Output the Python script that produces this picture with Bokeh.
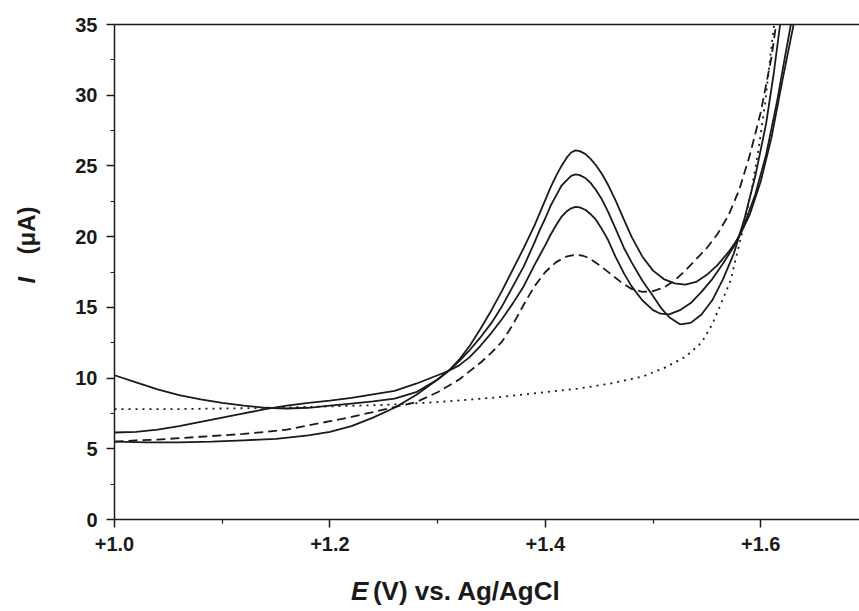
from bokeh.plotting import figure
from bokeh.models import FixedTicker, LinearAxis, Label, Range1d
from bokeh.layouts import row, column
from bokeh.embed import file_html
from bokeh.resources import INLINE

# ---- axis ticks ----
x_ticks = [1.0, 1.2, 1.4, 1.6]
x_tick_labels = ["+1.0", "+1.2", "+1.4", "+1.6"]
x_minor_ticks = [1.1, 1.3, 1.5, 1.7]
y_ticks = [0, 5, 10, 15, 20, 25, 30, 35]
y_minor_ticks = [2.5, 7.5, 12.5, 17.5, 22.5, 27.5, 32.5]

x_title_italic = "E"
x_title_rest = "(V) vs. Ag/AgCl"
y_title_italic = "I"
y_title_rest = "(\u03bcA)"

# ---- solid curve A (starts high, peak ~24.4) ----
a_v = [1.00, 1.02, 1.04, 1.06, 1.08, 1.10, 1.12, 1.14, 1.16, 1.18, 1.20, 1.22, 1.24, 1.26,
       1.28, 1.30, 1.31, 1.32, 1.33, 1.34, 1.35, 1.36, 1.37, 1.38, 1.39, 1.395, 1.40, 1.405,
       1.41, 1.415, 1.42, 1.424, 1.428, 1.432, 1.437, 1.442, 1.447, 1.452, 1.458, 1.465,
       1.473, 1.48, 1.49, 1.50, 1.507, 1.515, 1.525, 1.535, 1.545, 1.555, 1.565, 1.575,
       1.585, 1.595, 1.605, 1.612, 1.618, 1.622]
a_i = [10.2, 9.7, 9.2, 8.8, 8.5, 8.25, 8.05, 7.9, 7.85, 7.9, 8.05, 8.2, 8.35, 8.55,
       9.0, 9.9, 10.5, 11.2, 12.0, 12.9, 13.9, 15.1, 16.5, 17.9, 19.6, 20.5, 21.3, 22.2,
       22.9, 23.6, 24.0, 24.3, 24.4, 24.35, 24.15, 23.8, 23.3, 22.7, 21.8, 20.6,
       19.2, 18.2, 16.9, 15.8, 15.0, 14.3, 13.8, 13.9, 14.5, 15.5, 17.0, 18.8,
       21.3, 24.3, 28.0, 31.5, 35.0, 37.5]

# ---- solid curve B (starts ~6.1, peak ~22.1) ----
b_v = [1.00, 1.02, 1.04, 1.06, 1.08, 1.10, 1.12, 1.14, 1.16, 1.18, 1.20, 1.22, 1.24, 1.26,
       1.28, 1.30, 1.31, 1.32, 1.33, 1.34, 1.35, 1.36, 1.37, 1.38, 1.39, 1.395, 1.40, 1.405,
       1.41, 1.415, 1.42, 1.424, 1.428, 1.432, 1.437, 1.442, 1.447, 1.452, 1.458, 1.465,
       1.473, 1.48, 1.49, 1.50, 1.507, 1.515, 1.525, 1.535, 1.545, 1.555, 1.565, 1.575,
       1.585, 1.595, 1.605, 1.615, 1.622, 1.628, 1.633]
b_i = [6.15, 6.2, 6.35, 6.6, 6.9, 7.2, 7.5, 7.8, 8.05, 8.25, 8.4, 8.6, 8.85, 9.1,
       9.6, 10.2, 10.5, 10.9, 11.5, 12.3, 13.2, 14.2, 15.3, 16.5, 18.0, 18.7, 19.4, 20.15,
       20.8, 21.4, 21.8, 22.0, 22.1, 22.07, 21.9, 21.6, 21.2, 20.6, 19.8, 18.6,
       17.4, 16.5, 15.5, 14.8, 14.55, 14.5, 14.8, 15.3, 16.1, 17.0, 18.1, 19.3,
       20.9, 23.0, 25.8, 29.5, 32.5, 35.0, 37.5]

# ---- solid curve C (starts ~5.5, peak ~26.1) ----
c_v = [1.00, 1.03, 1.06, 1.09, 1.12, 1.15, 1.18, 1.20, 1.22, 1.24, 1.26, 1.28, 1.30, 1.31,
       1.32, 1.33, 1.34, 1.35, 1.36, 1.37, 1.38, 1.39, 1.395, 1.40, 1.405, 1.41, 1.415, 1.42,
       1.424, 1.428, 1.432, 1.437, 1.442, 1.447, 1.452, 1.458, 1.465, 1.473, 1.48, 1.49,
       1.50, 1.51, 1.52, 1.53, 1.54, 1.55, 1.56, 1.57, 1.58, 1.59, 1.60, 1.61, 1.62, 1.63,
       1.636]
c_i = [5.5, 5.45, 5.45, 5.5, 5.6, 5.7, 5.95, 6.2, 6.6, 7.2, 7.9, 8.8, 9.9, 10.5,
       11.3, 12.3, 13.5, 14.8, 16.2, 17.7, 19.2, 20.8, 21.7, 22.6, 23.5, 24.3, 25.0, 25.6,
       25.95, 26.1, 26.05, 25.85, 25.5, 25.05, 24.5, 23.7, 22.6, 21.2, 20.0, 18.6,
       17.6, 17.0, 16.7, 16.6, 16.8, 17.3, 18.0, 18.9, 20.0, 21.6, 23.9, 27.0, 31.0, 34.8,
       37.5]

# ---- dashed curve ----
d_v = [1.00, 1.02, 1.04, 1.06, 1.08, 1.10, 1.12, 1.14, 1.16, 1.18, 1.20, 1.22, 1.24, 1.26,
       1.28, 1.30, 1.32, 1.34, 1.35, 1.36, 1.37, 1.38, 1.39, 1.40, 1.41, 1.42, 1.425, 1.43,
       1.435, 1.44, 1.45, 1.46, 1.47, 1.48, 1.49, 1.50, 1.51, 1.52, 1.53, 1.54, 1.55, 1.56,
       1.57, 1.58, 1.59, 1.60, 1.61, 1.617]
d_i = [5.5, 5.6, 5.65, 5.75, 5.85, 5.95, 6.05, 6.2, 6.35, 6.65, 6.95, 7.25, 7.6, 7.95,
       8.3, 9.0, 9.9, 11.1, 11.8, 12.6, 13.8, 15.2, 16.5, 17.5, 18.2, 18.6, 18.68, 18.7,
       18.65, 18.5, 18.0, 17.4, 16.8, 16.3, 16.1, 16.15, 16.4, 16.9, 17.6, 18.4, 19.2, 20.2,
       21.5, 23.3, 25.8, 28.8, 32.7, 36.5]

# ---- dotted curve ----
e_v = [1.00, 1.05, 1.10, 1.15, 1.20, 1.25, 1.30, 1.35, 1.40, 1.43, 1.46, 1.49, 1.51, 1.53,
       1.545, 1.555, 1.565, 1.572, 1.578, 1.585, 1.592, 1.598, 1.604, 1.609, 1.614]
e_i = [7.8, 7.8, 7.85, 7.9, 8.0, 8.1, 8.3, 8.6, 9.0, 9.25, 9.6, 10.1, 10.7, 11.5,
       12.5, 13.8, 15.6, 16.9, 18.8, 21.0, 23.5, 26.2, 29.4, 32.8, 36.0]

FONT = "Liberation Sans"
INK = "#1a1a1a"
TITLE_SIZE = "26px"
LW = 1.8


def blank_fig(w, h):
    f = figure(width=w, height=h, output_backend="svg", toolbar_location=None,
               x_range=Range1d(0, w), y_range=Range1d(0, h),
               x_axis_location=None, y_axis_location=None,
               min_border=0, min_border_left=0, min_border_right=0,
               min_border_top=0, min_border_bottom=0)
    f.grid.visible = False
    f.outline_line_color = None
    f.background_fill_color = "white"
    f.border_fill_color = "white"
    return f


# ---- main plot ----
p = figure(width=813, height=560, output_backend="svg", toolbar_location=None,
           x_range=Range1d(1.0, 1.6917), y_range=Range1d(0, 35),
           min_border_left=68, min_border_right=0, min_border_top=24, min_border_bottom=41)
p.grid.visible = False
p.outline_line_color = None
p.background_fill_color = "white"
p.border_fill_color = "white"

for ax in (p.xaxis[0], p.yaxis[0]):
    ax.axis_line_color = INK
    ax.axis_line_width = 1.5
    ax.major_tick_line_color = INK
    ax.major_tick_line_width = 1.5
    ax.minor_tick_line_color = INK
    ax.minor_tick_line_width = 1.2
    ax.major_tick_out = 8
    ax.major_tick_in = 0
    ax.minor_tick_out = 4
    ax.minor_tick_in = 0
    ax.major_label_text_font = FONT
    ax.major_label_text_font_style = "bold"
    ax.major_label_text_font_size = "20px"
    ax.major_label_text_color = INK

p.xaxis[0].ticker = FixedTicker(ticks=x_ticks, minor_ticks=x_minor_ticks)
p.xaxis[0].major_label_overrides = dict(zip(x_ticks, x_tick_labels))
p.xaxis[0].major_label_standoff = 9
p.yaxis[0].ticker = FixedTicker(ticks=y_ticks, minor_ticks=y_minor_ticks)
p.yaxis[0].major_label_standoff = 9

top = LinearAxis(ticker=FixedTicker(ticks=[]), axis_line_color=INK, axis_line_width=1.5,
                 major_tick_line_color=None, minor_tick_line_color=None,
                 major_label_text_font_size="0px")
p.add_layout(top, "above")

p.line(e_v, e_i, line_color=INK, line_width=LW, line_dash="2 5")
p.line(d_v, d_i, line_color=INK, line_width=LW, line_dash="9 5")
p.line(a_v, a_i, line_color=INK, line_width=LW)
p.line(b_v, b_i, line_color=INK, line_width=LW)
p.line(c_v, c_i, line_color=INK, line_width=LW)

# ---- x title strip ----
xt = blank_fig(813, 51)
xt.add_layout(Label(x=258, y=21, text=x_title_italic, text_font=FONT,
                    text_font_style="bold italic", text_font_size=TITLE_SIZE,
                    text_color=INK, text_align="left", text_baseline="alphabetic"))
xt.add_layout(Label(x=282, y=21, text=x_title_rest, text_font=FONT,
                    text_font_style="bold", text_font_size=TITLE_SIZE,
                    text_color=INK, text_align="left", text_baseline="alphabetic"))

# ---- y title strip ----
yt = blank_fig(46, 611)
yt.add_layout(Label(x=26, y=328, text=y_title_italic, text_font=FONT,
                    text_font_style="bold italic", text_font_size="24px",
                    text_color=INK, text_align="left", text_baseline="alphabetic",
                    angle=1.5708))
yt.add_layout(Label(x=26, y=357, text=y_title_rest, text_font=FONT,
                    text_font_style="bold", text_font_size="24px",
                    text_color=INK, text_align="left", text_baseline="alphabetic",
                    angle=1.5708))

layout = row(yt, column(p, xt))
open("out.html", "w").write(file_html(layout, INLINE))
